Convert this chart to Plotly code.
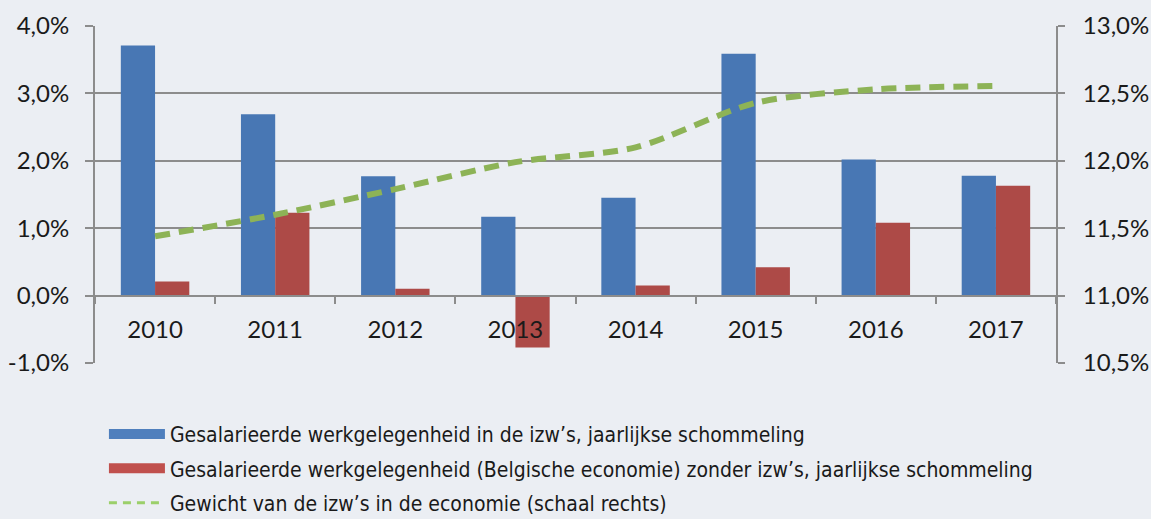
import plotly.graph_objects as go

years = ["2010", "2011", "2012", "2013", "2014", "2015", "2016", "2017"]
izw_growth = [3.71, 2.69, 1.77, 1.17, 1.45, 3.59, 2.02, 1.78]
belg_growth = [0.21, 1.23, 0.10, -0.77, 0.15, 0.42, 1.08, 1.63]
izw_weight = [11.44, 11.60, 11.79, 11.99, 12.10, 12.43, 12.53, 12.555]

left_ticks = [-1, 0, 1, 2, 3, 4]
left_labels = ["-1,0%", "0,0%", "1,0%", "2,0%", "3,0%", "4,0%"]
right_ticks = [10.5, 11.0, 11.5, 12.0, 12.5, 13.0]
right_labels = ["10,5%", "11,0%", "11,5%", "12,0%", "12,5%", "13,0%"]

name_blue = "Gesalarieerde werkgelegenheid in de izw\u2019s, jaarlijkse schommeling"
name_red = "Gesalarieerde werkgelegenheid (Belgische economie) zonder izw\u2019s, jaarlijkse schommeling"
name_green = "Gewicht van de izw\u2019s in de economie (schaal rechts)"

BG = "#ebeef3"
GRID = "#8c8c8c"
BLUE = "#4877b4"
RED = "#ad4a47"
GREEN = "#8db356"
tick_font = dict(family="Lato, 'Open Sans', sans-serif", size=24, color="#1a1a1a")

fig = go.Figure()
fig.add_trace(go.Bar(x=years, y=izw_growth, name=name_blue, marker=dict(color=BLUE, line=dict(width=0)),
                     legendgroup="a", showlegend=False))
fig.add_trace(go.Bar(x=years, y=belg_growth, name=name_red, marker=dict(color=RED, line=dict(width=0)),
                     legendgroup="b", showlegend=False))
fig.add_trace(go.Scatter(x=years, y=izw_weight, name=name_green, yaxis="y2", mode="lines",
                         line=dict(color=GREEN, width=6, dash="15px,9px", shape="spline", smoothing=0.8),
                         legendgroup="c", showlegend=False))

# legend entries (wide rectangular swatches like the original)
fig.add_trace(go.Scatter(x=[None], y=[None], mode="lines", name=name_blue,
                         line=dict(color="#4f7fbd", width=16), legendgroup="a", hoverinfo="skip"))
fig.add_trace(go.Scatter(x=[None], y=[None], mode="lines", name=name_red,
                         line=dict(color="#c0504d", width=16), legendgroup="b", hoverinfo="skip"))
fig.add_trace(go.Scatter(x=[None], y=[None], mode="lines", name=name_green,
                         line=dict(color="#9bcf6a", width=3, dash="8px,6px"), legendgroup="c", hoverinfo="skip"))

fig.update_layout(
    width=1151, height=519,
    margin=dict(l=95, r=95, t=26, b=156, autoexpand=False),
    paper_bgcolor=BG, plot_bgcolor=BG,
    barmode="group", bargap=0.43, bargroupgap=0,
    showlegend=True,
    legend=dict(x=0.0093, xanchor="left", y=-0.151, yanchor="top",
                orientation="v", traceorder="grouped", tracegroupgap=4, itemwidth=56,
                font=dict(family="'Liberation Sans Narrow', 'DejaVu Sans Condensed', Arial, sans-serif",
                          size=21, color="#1a1a1a"),
                bgcolor="rgba(0,0,0,0)"),
    xaxis=dict(type="category", anchor="free", position=0.2, showgrid=False, automargin=False,
               showline=True, linecolor=GRID, linewidth=2,
               ticks="outside", tickson="boundaries", ticklen=7, tickwidth=2, tickcolor=GRID,
               tickfont=tick_font, ticklabelstandoff=13),
    yaxis=dict(range=[-1, 4], tickvals=left_ticks, ticktext=left_labels, automargin=False,
               showgrid=True, gridcolor=GRID, gridwidth=2, zeroline=False,
               showline=True, linecolor=GRID, linewidth=2,
               ticks="outside", ticklen=8, tickwidth=2, tickcolor=GRID,
               tickfont=tick_font, ticklabelstandoff=11),
    yaxis2=dict(range=[10.5, 13], tickvals=right_ticks, ticktext=right_labels, automargin=False,
                overlaying="y", side="right", showgrid=False, zeroline=False,
                showline=True, linecolor=GRID, linewidth=2,
                ticks="outside", ticklen=7, tickwidth=2, tickcolor=GRID,
                tickfont=tick_font, ticklabelstandoff=13),
)

fig.write_html("out.html", config={"displayModeBar": False},
               post_script="document.body.style.margin='0';document.body.style.background='#ebeef3';")
